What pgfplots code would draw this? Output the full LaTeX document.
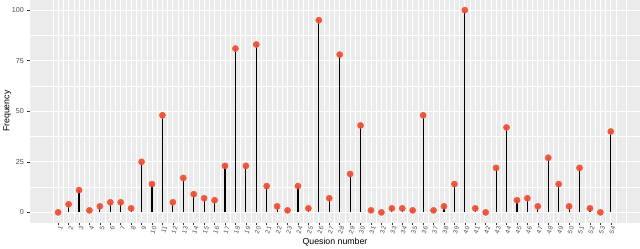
\documentclass[border=0pt]{standalone}
\usepackage{pgfplots}
\pgfplotsset{compat=1.18}
\usepackage{fontspec}
\setmainfont{Liberation Sans}
\definecolor{panel}{HTML}{EBEBEB}
\definecolor{pt}{HTML}{EE5237}
\definecolor{tick}{HTML}{4D4D4D}
\definecolor{tk}{HTML}{333333}
\begin{document}
\begin{tikzpicture}[x=1bp,y=1bp]
\begin{axis}[
  scale only axis,
  width=610bp, height=222.5bp,
  xmin=-1.7, xmax=56.8,
  ymin=-5, ymax=105,
  axis background/.style={fill=panel},
  axis line style={draw=none},
  xtick={1,...,54},
  minor xtick={0.5,1.5,...,55.5},
  ytick={0,25,50,75,100},
  minor ytick={12.5,37.5,62.5,87.5},
  grid=both,
  major grid style={white, line width=0.8bp},
  minor grid style={white, line width=0.4bp},
  tick align=outside,
  major tick length=2.6bp,
  minor tick length=0pt,
  tick style={tk, line width=0.5bp},
  xtick pos=bottom, ytick pos=left,
  every tick label/.append style={text=tick},
  xticklabel style={font=\fontsize{6.4}{7}\selectfont, rotate=70, anchor=east, inner sep=0.3pt, yshift=-3.2bp},
  yticklabel style={font=\fontsize{7.2}{8}\selectfont, inner sep=0.5pt, xshift=-2.8bp},
  /pgf/number format/assume math mode=true,
  xlabel={Quesion number},
  ylabel={Frequency},
  xlabel style={font=\fontsize{8.8}{10}\selectfont, at={(axis description cs:0.5,0)}, anchor=center, yshift=-19.5bp, inner sep=0pt},
  ylabel style={font=\fontsize{8.8}{10}\selectfont, inner sep=0pt},
  clip=false,
]
\addplot[ycomb, black, line width=1.1bp, mark=none] coordinates {
(1,0)(2,4)(3,11)(4,1)(5,3)(6,5)(7,5)(8,2)(9,25)(10,14)(11,48)(12,5)(13,17)(14,9)(15,7)(16,6)(17,23)(18,81)(19,23)(20,83)(21,13)(22,3)(23,1)(24,13)(25,2)(26,95)(27,7)(28,78)(29,19)(30,43)(31,1)(32,0)(33,2)(34,2)(35,1)(36,48)(37,1)(38,3)(39,14)(40,100)(41,2)(42,0)(43,22)(44,42)(45,6)(46,7)(47,3)(48,27)(49,14)(50,3)(51,22)(52,2)(53,0)(54,40)
};
\addplot[only marks, mark=*, mark size=3.1bp, mark options={fill=pt, draw=pt, fill opacity=0.95}] coordinates {
(1,0)(2,4)(3,11)(4,1)(5,3)(6,5)(7,5)(8,2)(9,25)(10,14)(11,48)(12,5)(13,17)(14,9)(15,7)(16,6)(17,23)(18,81)(19,23)(20,83)(21,13)(22,3)(23,1)(24,13)(25,2)(26,95)(27,7)(28,78)(29,19)(30,43)(31,1)(32,0)(33,2)(34,2)(35,1)(36,48)(37,1)(38,3)(39,14)(40,100)(41,2)(42,0)(43,22)(44,42)(45,6)(46,7)(47,3)(48,27)(49,14)(50,3)(51,22)(52,2)(53,0)(54,40)
};
\end{axis}
\pgfresetboundingbox
\path[use as bounding box] (-30bp,-26.5bp) rectangle (610bp,222.5bp);
\end{tikzpicture}
\end{document}
